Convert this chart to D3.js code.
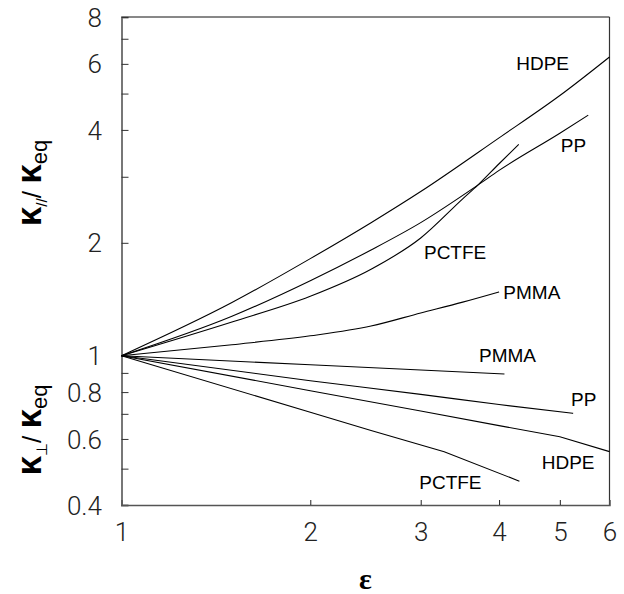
<!DOCTYPE html>
<html>
<head>
<meta charset="utf-8">
<script src="https://cdn.jsdelivr.net/npm/d3@7"></script>
<style>
  html, body { margin: 0; padding: 0; background: #fff; }
  svg { display: block; }
  .tick text { font-family: Roboto, "Liberation Sans", Arial, sans-serif; font-weight: 300; font-size: 26px; fill: #222; }
  .lbl { font-family: "Liberation Sans", Arial, sans-serif; font-size: 19px; fill: #000; }
</style>
</head>
<body>
<svg id="chart" width="624" height="594"></svg>
<script>
// ---- data (strain ε vs. normalised thermal conductivity) ----
const hdpeParEps = [1, 1.5, 2, 2.5, 3, 4, 5, 6];
const hdpeParVal = [1, 1.386, 1.815, 2.263, 2.74, 3.81, 4.94, 6.26];
const ppParEps = [1, 1.5, 2, 2.5, 3, 3.7, 4, 5, 5.55];
const ppParVal = [1, 1.274, 1.585, 1.914, 2.264, 2.85, 3.12, 3.92, 4.38];
const pctfeParEps = [1, 1.5, 2, 2.5, 3, 3.5, 3.7, 4, 4.3];
const pctfeParVal = [1, 1.23, 1.44, 1.70, 2.06, 2.62, 2.85, 3.25, 3.66];
const pmmaParEps = [1, 1.5, 2, 2.5, 3, 3.5, 4];
const pmmaParVal = [1, 1.07, 1.13, 1.20, 1.30, 1.39, 1.48];
const pmmaPerpEps = [1, 2, 3, 4.08];
const pmmaPerpVal = [1, 0.946, 0.916, 0.894];
const ppPerpEps = [1, 2, 3, 4, 5.25];
const ppPerpVal = [1, 0.858, 0.789, 0.741, 0.702];
const hdpePerpEps = [1, 2, 3, 4, 5, 6];
const hdpePerpVal = [1, 0.807, 0.712, 0.651, 0.608, 0.555];
const pctfePerpEps = [1, 2, 2.5, 3.27, 4.31];
const pctfePerpVal = [1, 0.707, 0.632, 0.555, 0.463];

const xTicks = [2, 3, 4, 5];
const xTickLabels = [1, 2, 3, 4, 5, 6];
const yTicks = [0.4, 0.5, 0.6, 0.7, 0.8, 0.9, 1, 2, 3, 4, 5, 6, 7, 8];
const yTickLabels = [0.4, 0.6, 0.8, 1, 2, 4, 6, 8];

const seriesNames = ["HDPE", "PP", "PCTFE", "PMMA", "PMMA", "PP", "HDPE", "PCTFE"];
// label anchor (start, baseline) in data coords (ε, κ ratio)
const labelEps = [4.26, 5.016, 3.036, 4.063, 3.716, 5.209, 4.678, 2.984];
const labelVal = [5.78, 3.49, 1.81, 1.42, 0.960, 0.735, 0.498, 0.440];

// ---- layout ----
const svg = d3.select("#chart");
const L = 121.5, R = 609.5, T = 17, B = 505;
const x = d3.scaleLog().domain([1, 6]).range([L, R]);
const y = d3.scaleLog().domain([0.4, 8]).range([B, T]);

// frame
svg.append("line").attr("x1", L).attr("x2", R).attr("y1", T).attr("y2", T).attr("stroke", "#111").attr("stroke-width", 1);
svg.append("line").attr("x1", R).attr("x2", R).attr("y1", T).attr("y2", B).attr("stroke", "#333").attr("stroke-width", 1.2);

// y axis
const yAxis = d3.axisLeft(y).tickValues(yTicks).tickSize(-7).tickPadding(19.5)
  .tickFormat(d => yTickLabels.includes(d) ? String(d) : "");
const gy = svg.append("g").attr("transform", `translate(${L},0)`).call(yAxis);
gy.select(".domain").attr("stroke", "#777").attr("stroke-width", 2);
gy.selectAll(".tick line").attr("stroke", "#333");
gy.selectAll(".tick text").attr("dy", "0.35em");

// x axis
const xAxis = d3.axisBottom(x).tickValues(xTickLabels).tickSize(-5).tickPadding(17.5)
  .tickFormat(d => String(d));
const gx = svg.append("g").attr("transform", `translate(0,${B})`).call(xAxis);
gx.select(".domain").attr("stroke", "#555").attr("stroke-width", 1.5);
gx.selectAll(".tick line").attr("stroke", d => xTicks.includes(d) ? "#222" : "none");

// curves
const lineSmooth = d3.line().x(d => x(d[0])).y(d => y(d[1])).curve(d3.curveMonotoneX);
const lineStraight = d3.line().x(d => x(d[0])).y(d => y(d[1]));
const zip = (a, b) => a.map((v, i) => [v, b[i]]);
const curves = [
  [hdpeParEps, hdpeParVal, lineSmooth],
  [ppParEps, ppParVal, lineSmooth],
  [pctfeParEps, pctfeParVal, lineSmooth],
  [pmmaParEps, pmmaParVal, lineSmooth],
  [pmmaPerpEps, pmmaPerpVal, lineStraight],
  [ppPerpEps, ppPerpVal, lineSmooth],
  [hdpePerpEps, hdpePerpVal, lineStraight],
  [pctfePerpEps, pctfePerpVal, lineStraight]
];
curves.forEach(([e, v, gen]) => {
  svg.append("path").attr("d", gen(zip(e, v))).attr("fill", "none")
    .attr("stroke", "#000").attr("stroke-width", 1.1);
});

// series labels
seriesNames.forEach((n, i) => {
  svg.append("text").attr("class", "lbl").attr("x", x(labelEps[i])).attr("y", y(labelVal[i])).text(n);
});

// axis titles
svg.append("text").attr("x", (L + R) / 2).attr("y", 589).attr("text-anchor", "middle")
  .attr("font-family", "'Liberation Serif', 'Times New Roman', serif").attr("font-weight", "bold")
  .attr("font-size", 30).text("ε");

function yTitle(cx, cy, sub) {
  const t = svg.append("text").attr("transform", `translate(${cx},${cy}) rotate(-90)`)
    .attr("text-anchor", "middle").attr("font-family", "'Liberation Sans', Arial, sans-serif");
  t.append("tspan").attr("font-weight", "bold").attr("font-size", 35).text("κ");
  t.append("tspan").attr("font-size", 15).attr("dy", 6).text(sub);
  t.append("tspan").attr("font-size", 26).attr("dy", -6).text("/ ");
  t.append("tspan").attr("font-weight", "bold").attr("font-size", 35).text("κ");
  t.append("tspan").attr("font-size", 22).attr("dy", 6).text("eq");
}
yTitle(41, 183, "//");
yTitle(41, 430, "⊥");
</script>
</body>
</html>
